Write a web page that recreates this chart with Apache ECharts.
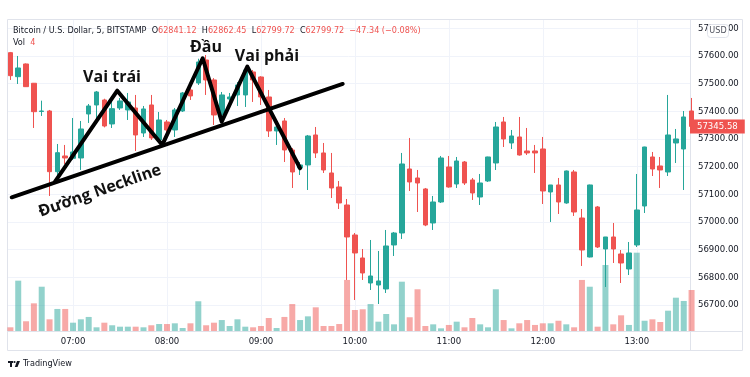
<!DOCTYPE html>
<html><head><meta charset="utf-8">
<script src="https://cdn.jsdelivr.net/npm/echarts@6/dist/echarts.min.js"></script>
<style>html,body{margin:0;padding:0;background:#fff}#c{width:750px;height:377px}</style>
</head><body><div id="c"></div>
<script>
const times = [
'06:20','06:25','06:30','06:35','06:40','06:45','06:50','06:55',
'07:00','07:05','07:10','07:15','07:20','07:25','07:30','07:35','07:40','07:45','07:50','07:55',
'08:00','08:05','08:10','08:15','08:20','08:25','08:30','08:35','08:40','08:45','08:50','08:55',
'09:00','09:05','09:10','09:15','09:20','09:25','09:30','09:35','09:40','09:45','09:50','09:55',
'10:00','10:05','10:10','10:15','10:20','10:25','10:30','10:35','10:40','10:45','10:50','10:55',
'11:00','11:05','11:10','11:15','11:20','11:25','11:30','11:35','11:40','11:45','11:50','11:55',
'12:00','12:05','12:10','12:15','12:20','12:25','12:30','12:35','12:40','12:45','12:50','12:55',
'13:00','13:05','13:10','13:15','13:20','13:25','13:30','13:35'];
// [open, close, low, high]
const candles = [
[57612.0,57528.8,57513.3,57614.5],[57525.2,57556.6,57498.8,57600.0],[57571.1,57489.1,57488.0,57573.0],
[57501.4,57398.7,57339.8,57502.4],[57399.4,57401.2,57383.2,57438.5],[57401.2,57181.9,57094.1,57404.9],
[57181.9,57250.5,57162.7,57282.0],[57238.6,57231.4,57209.7,57278.4],[57230.3,57253.1,57224.2,57375.9],
[57231.4,57336.2,57188.0,57365.1],[57390.4,57419.3,57357.9,57426.5],[57422.9,57469.9,57375.9,57473.5],
[57441.0,57347.0,57342.0,57445.5],[57354.3,57409.6,57339.8,57441.0],[57412.1,57437.4,57404.9,57448.2],
[57404.9,57433.8,57368.7,57466.3],[57412.1,57314.5,57256.7,57459.1],[57321.7,57408.5,57307.3,57419.3],
[57422.9,57303.7,57296.4,57459.1],[57296.4,57368.7,57285.6,57397.6],[57361.5,57332.6,57321.7,57368.7],
[57332.6,57404.9,57307.3,57412.1],[57401.2,57466.3,57397.6,57469.9],[57477.1,57455.5,57441.0,57495.2],
[57502.4,57578.3,57495.2,57590.0],[57585.5,57513.3,57459.1,57603.6],[57513.3,57386.8,57350.6,57520.0],
[57386.8,57459.1,57361.5,57469.9],[57444.6,57451.8,57422.9,57466.3],[57459.1,57495.2,57419.3,57506.0],
[57459.1,57549.4,57415.7,57560.3],[57542.2,57513.3,57433.8,57549.4],[57524.1,57451.8,57422.9,57527.0],
[57451.8,57329.0,57307.3,57477.1],[57329.0,57343.4,57278.4,57345.0],[57365.1,57260.3,57216.9,57375.9],
[57260.3,57180.8,57123.0,57267.5],[57195.2,57206.1,57169.9,57216.9],[57206.1,57310.9,57115.7,57314.5],
[57314.5,57249.5,57231.4,57343.4],[57249.5,57188.0,57177.2,57285.6],[57177.2,57123.0,57086.8,57249.5],
[57126.6,57068.8,57047.1,57148.3],[57061.5,56945.9,56790.5,57083.2],[56953.1,56888.1,56718.2,56960.3],
[56870.0,56815.8,56790.5,56902.5],[56779.6,56804.9,56754.3,56935.0],[56772.4,56786.9,56703.7,56895.3],
[56758.0,56913.4,56743.5,56971.2],[56917.0,56960.3,56877.2,56964.0],[56960.3,57209.7,56938.7,57249.5],
[57191.6,57144.7,57112.1,57303.7],[57159.1,57141.0,57036.2,57188.0],[57119.4,56989.2,56985.0,57123.0],
[56996.5,57072.4,56971.2,57094.1],[57072.4,57231.4,57068.8,57238.6],[57198.9,57126.6,57124.0,57238.6],
[57137.4,57220.5,57123.0,57235.0],[57216.9,57141.0,57133.8,57220.5],[57151.9,57104.9,57079.6,57159.1],
[57090.4,57141.0,57061.5,57173.6],[57148.3,57235.0,57144.7,57236.0],[57213.3,57343.4,57188.0,57361.5],
[57361.5,57300.1,57271.1,57379.6],[57285.6,57310.9,57263.9,57332.6],[57307.3,57242.2,57240.0,57379.6],
[57256.7,57249.5,57242.2,57339.8],[57256.7,57249.5,57177.2,57278.4],[57263.9,57112.1,57065.1,57307.3],
[57108.5,57133.8,57000.1,57134.0],[57133.8,57072.4,57029.0,57159.1],[57068.8,57184.4,57066.0,57186.0],
[57180.8,57036.2,57021.8,57188.0],[57014.5,56898.9,56841.1,57047.1],[56873.6,57133.8,56872.0,57135.0],
[57054.3,56909.7,56906.1,57057.9],[56902.5,56945.9,56765.2,56946.0],[56945.9,56902.5,56851.9,56996.5],
[56884.4,56851.9,56779.6,56898.9],[56830.2,56888.1,56808.5,56927.8],[56917.0,57043.5,56909.7,57173.6],
[57057.9,57271.1,57032.6,57272.0],[57235.0,57191.6,57166.3,57253.1],[57202.5,57188.0,57123.0,57235.0],
[57180.8,57314.5,57166.3,57459.1],[57285.6,57300.1,57213.3,57336.2],[57263.9,57379.6,57115.7,57401.2],
[57401.2,57345.58,57324.0,57448.2]];
const volumes = [
0.36,4.91,0.95,2.70,4.32,1.14,2.15,2.15,0.81,1.14,1.37,0.36,0.81,0.56,0.42,0.42,0.42,0.36,0.56,0.68,
0.68,0.75,0.29,0.75,2.90,0.56,0.81,1.07,0.49,1.14,0.42,0.36,0.49,1.27,0.29,1.37,2.63,1.07,1.43,2.31,
0.49,0.49,0.68,4.98,2.05,2.12,2.63,0.91,1.66,0.65,4.81,1.34,4.07,0.49,0.65,0.26,0.59,0.91,0.36,1.27,
0.65,0.36,4.07,1.07,0.26,0.75,1.07,0.59,0.75,0.75,1.00,0.65,0.36,4.98,4.32,0.42,6.44,0.65,1.53,0.59,
7.64,1.00,1.14,0.88,1.98,3.25,2.93,4.00];
const hourTicks = ['07:00','08:00','09:00','10:00','11:00','12:00','13:00'];
// Head & shoulders annotation, in (bar index, price)
const patternX = [5.70,13.65,19.40,24.56,26.99,30.26,37.0];
const patternY = [57145.7,57474.6,57278.4,57591.7,57362.6,57561.3,57194.2];
const necklineX = [0.17,42.44];
const necklineY = [57089.4,57498.8];
const annotations = [
  {text:'Vai trái', x:12.98, y:57522, rot:0},
  {text:'Đầu', x:24.98, y:57630, rot:0},
  {text:'Vai phải', x:32.77, y:57598, rot:0},
  {text:'Đường Neckline', x:11.44, y:57112, rot:19.5}
];
const lastPrice = 57345.58;
const header = {symbol:'Bitcoin / U.S. Dollar, 5, BITSTAMP', o:'62841.12', h:'62862.45', l:'62799.72', c:'62799.72', chg:'−47.34 (−0.08%)', vol:'4'};

const UP='#26a69a', DOWN='#ef5350';
const FONT="'Liberation Sans Narrow','DejaVu Sans Condensed',Roboto,sans-serif";
const XMIN=-0.434, XMAX=86.8;
const tickIdx = hourTicks.map(t=>times.indexOf(t));

const chart = echarts.init(document.getElementById('c'));
const option = {
  animation:false,
  grid:[{left:7,right:60,top:28.3,bottom:44.3},{left:7,right:60,top:20,bottom:46}],
  xAxis:[
    {type:'value',gridIndex:0,min:XMIN,max:XMAX,show:false},
    {type:'value',gridIndex:1,min:XMIN,max:XMAX,
     axisLine:{show:false},
     axisTick:{show:false,customValues:tickIdx},
     splitLine:{show:true,lineStyle:{color:'#f0f3fa',width:1}},
     axisLabel:{customValues:tickIdx,formatter:v=>times[Math.round(v)],color:'#131722',fontSize:9.5,fontFamily:FONT,margin:6}}
  ],
  yAxis:[
    {type:'value',gridIndex:0,position:'right',min:56600,max:57700,interval:100,
     axisLine:{show:false},axisTick:{show:false},
     splitLine:{show:true,showMinLine:false,lineStyle:{color:'#f0f3fa',width:1}},
     axisLabel:{showMinLabel:false,formatter:v=>v.toFixed(2),color:'#131722',fontSize:9.5,fontFamily:FONT,margin:8}},
    {type:'value',gridIndex:1,min:0,max:30.34,show:false}
  ],
  series:[
    {type:'bar',xAxisIndex:1,yAxisIndex:1,barWidth:6,z:2,
     data:volumes.map((v,i)=>({value:[i,v],itemStyle:{color:candles[i][1]>=candles[i][0]?'rgba(38,166,154,0.5)':'rgba(239,83,80,0.5)'}}))},
    {type:'candlestick',xAxisIndex:0,yAxisIndex:0,barWidth:5,z:3,
     data:candles.map((c,i)=>[i,c[0],c[1],c[2],c[3]]),
     itemStyle:{color:UP,color0:DOWN,borderColor:UP,borderColor0:DOWN,borderWidth:1},
     markLine:{silent:true,symbol:['none','none'],z:6,
       lineStyle:{color:'rgba(0,0,0,0)',width:0},
       data:[{yAxis:lastPrice}],
       label:{show:true,position:'end',distance:0,formatter:()=>lastPrice.toFixed(2),
         backgroundColor:DOWN,color:'#fff',fontSize:9.5,fontFamily:FONT,padding:[2,7,2,7]}}},
    {type:'line',xAxisIndex:0,yAxisIndex:0,z:5,symbol:'none',silent:true,
     data:necklineX.map((x,i)=>[x,necklineY[i]]),
     lineStyle:{color:'#000',width:4,cap:'round',join:'round'}},
    {type:'line',xAxisIndex:0,yAxisIndex:0,z:5,symbol:'none',silent:true,
     data:patternX.map((x,i)=>[x,patternY[i]]),
     lineStyle:{color:'#000',width:4,cap:'round',join:'round'}}
  ]
};
chart.setOption(option);

const g = [];
// frame
g.push({type:'rect',shape:{x:7.5,y:19.5,width:735,height:331},style:{fill:'none',stroke:'#e0e3eb',lineWidth:1},z:1,silent:true});
g.push({type:'line',shape:{x1:690.5,y1:19.5,x2:690.5,y2:350.5},style:{stroke:'#e0e3eb',lineWidth:1},z:1,silent:true});
g.push({type:'line',shape:{x1:7.5,y1:331.5,x2:742.5,y2:331.5},style:{stroke:'#e0e3eb',lineWidth:1},z:1,silent:true});
// header
g.push({type:'text',left:13,top:26,z:20,style:{
  text:'{n|'+header.symbol+'}  {n|O}{r|'+header.o+'}  {n|H}{r|'+header.h+'}  {n|L}{r|'+header.l+'}  {n|C}{r|'+header.c+'}  {r|'+header.chg+'}',
  rich:{n:{fill:'#131722',fontSize:9,fontFamily:FONT},r:{fill:'#ef5350',fontSize:9,fontFamily:FONT}},
  fontSize:9,fontFamily:FONT}});
g.push({type:'text',left:13,top:38,z:20,style:{text:'{n|Vol}  {r|'+header.vol+'}',
  rich:{n:{fill:'#131722',fontSize:9,fontFamily:FONT},r:{fill:'#ef5350',fontSize:9,fontFamily:FONT}},fontSize:9,fontFamily:FONT}});
// USD badge
g.push({type:'rect',shape:{x:707.5,y:24.5,width:21,height:13,r:3},style:{fill:'#fff',stroke:'#e0e3eb',lineWidth:1},z:20});
g.push({type:'text',x:718,y:31,z:21,style:{text:'USD',fill:'#50535e',fontSize:9,fontFamily:FONT,align:'center',verticalAlign:'middle'}});
// TradingView logo
g.push({type:'rect',shape:{x:8,y:361,width:5,height:2},style:{fill:'#131722'},z:20});
g.push({type:'rect',shape:{x:10,y:361,width:2,height:6},style:{fill:'#131722'},z:20});
g.push({type:'circle',shape:{cx:14.5,cy:362,r:1.1},style:{fill:'#131722'},z:20});
g.push({type:'polygon',shape:{points:[[17,361],[20,361],[17.5,367],[14.8,367]]},style:{fill:'#131722'},z:20});
g.push({type:'text',x:23,y:364,z:20,style:{text:'TradingView',fill:'#131722',fontSize:9,fontFamily:FONT,verticalAlign:'middle'}});
// annotation texts
annotations.forEach(a=>{
  const p = chart.convertToPixel({gridIndex:0},[a.x,a.y]);
  g.push({type:'text',x:p[0],y:p[1],rotation:a.rot*Math.PI/180,z:30,silent:true,
    style:{text:a.text,fill:'#111',fontSize:16,fontWeight:'bold',fontFamily:"'Open Sans','Noto Sans',sans-serif",align:'center',verticalAlign:'middle'}});
});
chart.setOption({graphic:g});
</script></body></html>
